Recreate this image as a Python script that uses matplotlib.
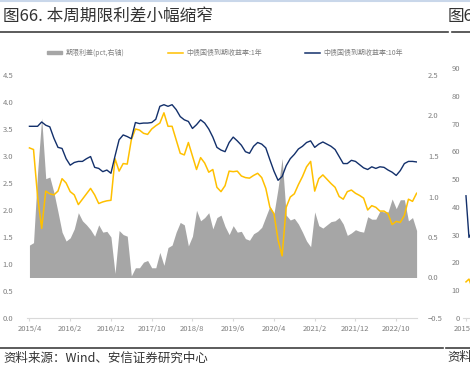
import matplotlib
matplotlib.use("Agg")
import matplotlib.pyplot as plt
from matplotlib.lines import Line2D
from matplotlib.patches import Patch
import numpy as np

plt.rcParams["font.family"] = ["Noto Sans CJK SC", "DejaVu Sans"]

# monthly points from 2015/4 to 2023/3
y10 = [3.55, 3.55, 3.55, 3.63, 3.57, 3.54, 3.33, 3.16, 3.14, 2.95,
       2.83, 2.88, 2.90, 2.90, 2.95, 2.99, 2.79, 2.77, 2.71, 2.74,
       2.68, 3.00, 3.30, 3.39, 3.36, 3.32, 3.62, 3.60, 3.61, 3.61,
       3.62, 3.68, 3.92, 3.95, 3.92, 3.95, 3.86, 3.73, 3.67, 3.64,
       3.51, 3.58, 3.67, 3.61, 3.50, 3.35, 3.16, 3.11,
       3.08, 3.25, 3.35, 3.28, 3.20, 3.08, 3.05, 3.18, 3.25, 3.22,
       3.15, 2.93, 2.72, 2.55, 2.62, 2.82, 2.95, 3.03, 3.13, 3.18,
       3.25, 3.28, 3.16, 3.22, 3.26, 3.22, 3.18, 3.12, 2.99, 2.86,
       2.86, 2.92, 2.90, 2.84, 2.78, 2.75, 2.80, 2.77, 2.80, 2.79,
       2.74, 2.70, 2.64, 2.73, 2.86, 2.90, 2.90, 2.89]
y1 = [3.15, 3.12, 2.25, 1.66, 2.35, 2.30, 2.28, 2.35, 2.58, 2.50,
      2.34, 2.28, 2.10, 2.20, 2.30, 2.40, 2.28, 2.12, 2.15, 2.17,
      2.18, 2.95, 2.72, 2.86, 2.85, 3.30, 3.50, 3.48, 3.42, 3.40,
      3.50, 3.56, 3.61, 3.80, 3.55, 3.55, 3.30, 3.05, 3.02, 3.25,
      3.00, 2.75, 2.97, 2.87, 2.70, 2.75, 2.42, 2.34,
      2.45, 2.72, 2.71, 2.72, 2.63, 2.60, 2.59, 2.64, 2.68, 2.60,
      2.40, 2.05, 1.93, 1.45, 1.15, 2.05, 2.24, 2.30, 2.47, 2.62,
      2.80, 2.90, 2.35, 2.58, 2.65, 2.57, 2.49, 2.42, 2.25, 2.20,
      2.34, 2.37, 2.31, 2.27, 2.22, 2.00, 2.08, 2.05, 1.98, 1.98,
      1.93, 1.73, 1.79, 1.77, 1.90, 2.20, 2.16, 2.31]
tick_labels = ["2015/4", "2016/2", "2016/12", "2017/10", "2018/8",
               "2019/6", "2020/4", "2021/2", "2021/12", "2022/10"]

# the next chart on the page, cut off at the right edge
next_navy = [44, 29, 31, 30]
next_gold = [13, 14, 11, 12]

navy = "#13306b"
gold = "#ffc000"
grey = "#a6a6a6"
txt = "#7f7f7f"

x = np.arange(len(y10))
spread = np.array(y10) - np.array(y1)

fig = plt.figure(figsize=(4.70, 3.77), dpi=100)
W, H = 470, 377

ax = fig.add_axes([27 / W, (H - 318) / H, 390 / W, 243 / H])
axr = ax.twinx()
ax.set_zorder(axr.get_zorder() + 1)
ax.patch.set_visible(False)

axr.fill_between(x, 0, spread, color=grey, lw=0)
ax.plot(x, y1, color=gold, lw=1.1)
ax.plot(x, y10, color=navy, lw=1.0)

ax.set_xlim(-0.6, len(x) - 0.9)
ax.set_ylim(0, 4.5)
axr.set_ylim(-0.5, 2.5)
ax.set_yticks(np.arange(0, 4.6, 0.5))
axr.set_yticks(np.arange(-0.5, 2.6, 0.5))
ax.set_xticks(np.arange(0, 91, 10))
ax.set_xticklabels(tick_labels)

for a in (ax, axr):
    for s in a.spines.values():
        s.set_visible(False)
ax.spines["bottom"].set_visible(True)
ax.spines["bottom"].set_color("#d9d9d9")
ax.tick_params(axis="y", length=0, pad=10, labelsize=5.5, labelcolor=txt)
axr.tick_params(axis="y", length=0, pad=8, labelsize=5.5, labelcolor=txt)
for lb in axr.get_yticklabels():
    lb.set_horizontalalignment("left")
ax.tick_params(axis="x", length=2, color="#d9d9d9", pad=3, labelsize=5.5,
               labelcolor=txt)

handles = [Patch(color=grey), Line2D([], [], color=gold, lw=1.1),
           Line2D([], [], color=navy, lw=1.1)]
labels = ["期限利差(pct,右轴)", "中债国债到期收益率:1年", "中债国债到期收益率:10年"]
fig.legend(handles, labels, loc="center left", bbox_to_anchor=(47 / W, (H - 53) / H),
           ncol=3, frameon=False, fontsize=5, labelcolor=txt, handlelength=2.2,
           handleheight=0.4, handletextpad=0.5, columnspacing=6.2,
           borderpad=0, borderaxespad=0)

# partial neighbour chart
ax2 = fig.add_axes([463 / W, (H - 318) / H, 200 / W, 250 / H])
ax2.plot(np.arange(len(next_navy)), next_navy, color=navy, lw=1.0)
ax2.plot(np.arange(len(next_gold)), next_gold, color=gold, lw=1.1)
ax2.set_xlim(-1, 66)
ax2.set_ylim(0, 90)
ax2.set_yticks(np.arange(0, 91, 10))
ax2.set_xticks([0])
ax2.set_xticklabels(["2015/1"])
for s in ax2.spines.values():
    s.set_visible(False)
ax2.spines["bottom"].set_visible(True)
ax2.spines["bottom"].set_color("#d9d9d9")
ax2.tick_params(axis="y", length=0, pad=2, labelsize=5.5, labelcolor=txt)
ax2.tick_params(axis="x", length=2, color="#d9d9d9", pad=3, labelsize=5.5,
                labelcolor=txt)

# page furniture
fig.add_artist(Line2D([0, 1], [1 - 1 / H, 1 - 1 / H], color="#c9d7ea", lw=1.5))
fig.add_artist(Line2D([0, 448 / W], [1 - 32 / H] * 2, color="#404040", lw=1.2))
fig.add_artist(Line2D([452 / W, 1], [1 - 32 / H] * 2, color="#404040", lw=1.2))
fig.add_artist(Line2D([0, 443 / W], [1 - 348 / H] * 2, color="#404040", lw=1.2))
fig.add_artist(Line2D([446 / W, 1], [1 - 348 / H] * 2, color="#404040", lw=1.2))
fig.text(3 / W, 1 - 16 / H, "图66. 本周期限利差小幅缩窄", fontsize=12,
         color="#333333", va="center", ha="left")
fig.text(448 / W, 1 - 16 / H, "图6", fontsize=12, color="#333333",
         va="center", ha="left")
fig.text(3 / W, 1 - 358 / H, "资料来源：Wind、安信证券研究中心", fontsize=9,
         color="#333333", va="center", ha="left", style="italic")
fig.text(447 / W, 1 - 358 / H, "资料", fontsize=9, color="#333333",
         va="center", ha="left", style="italic")

fig.savefig("out.png", dpi=100)
